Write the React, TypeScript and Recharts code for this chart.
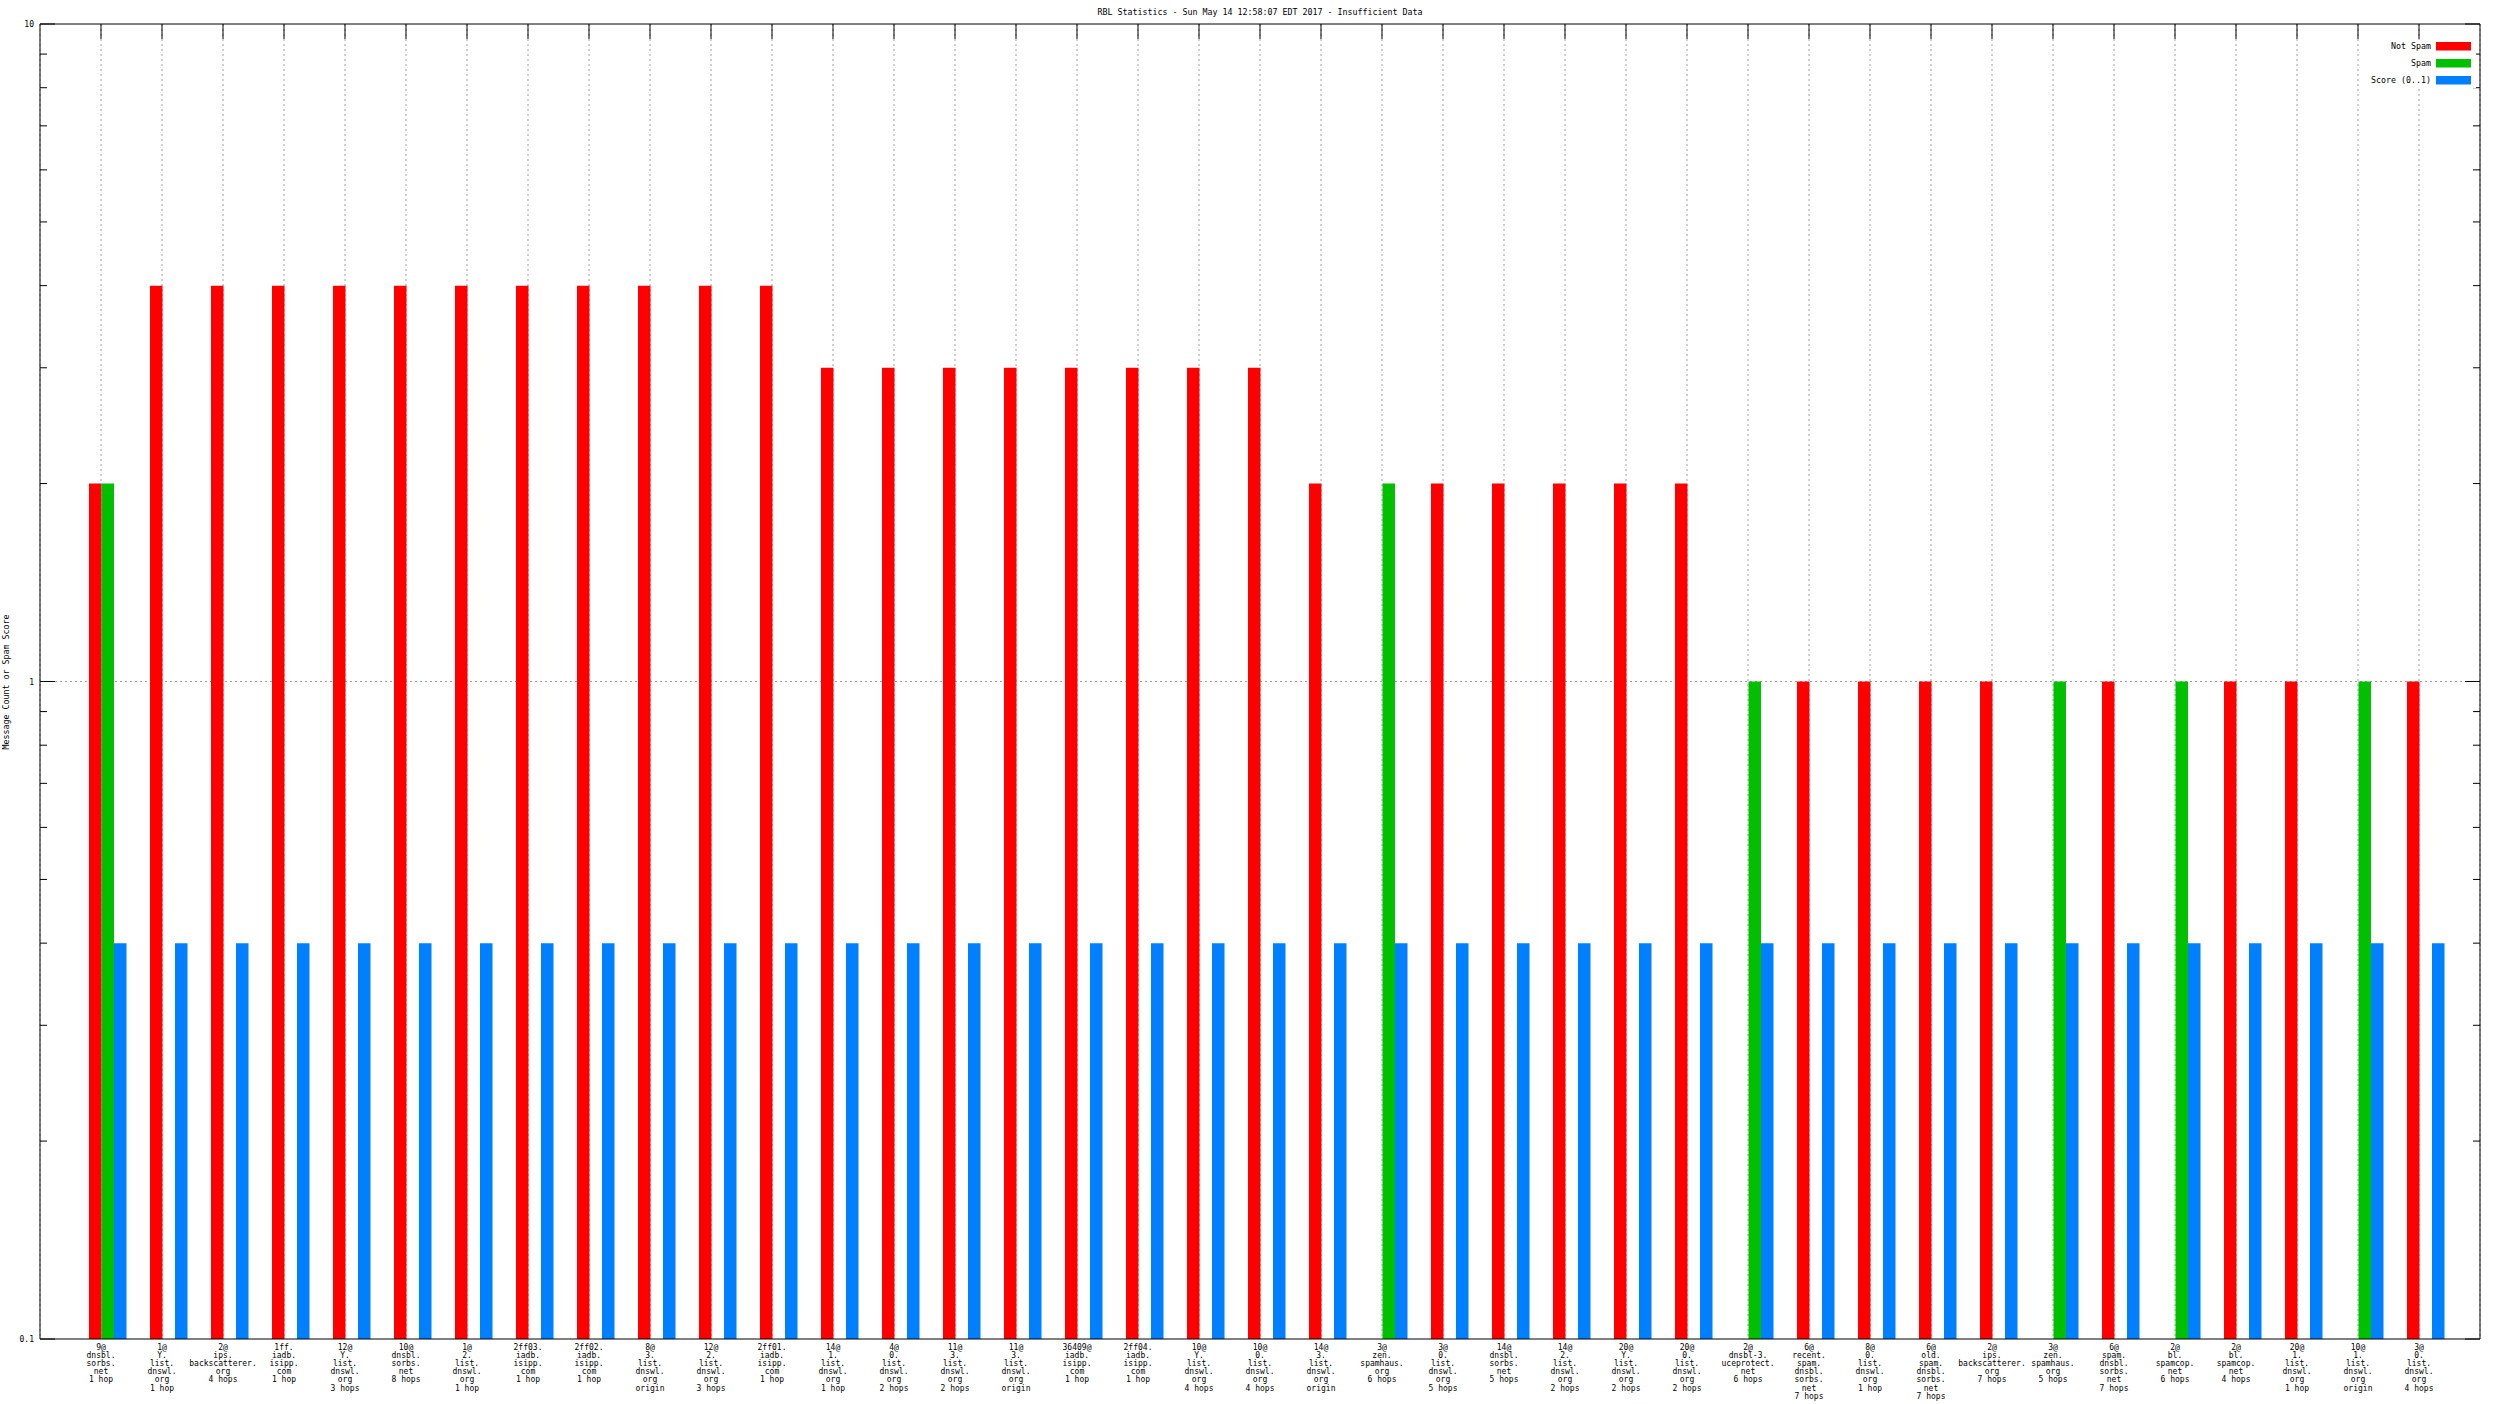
import React from 'react';
import { ComposedChart, Bar, XAxis, YAxis, CartesianGrid } from 'recharts';

// ---------- data ----------
const categories: string[] = [
  '9@|dnsbl.|sorbs.|net|1 hop',
  '1@|Y.|list.|dnswl.|org|1 hop',
  '2@|ips.|backscatterer.|org|4 hops',
  '1ff.|iadb.|isipp.|com|1 hop',
  '12@|Y.|list.|dnswl.|org|3 hops',
  '10@|dnsbl.|sorbs.|net|8 hops',
  '1@|2.|list.|dnswl.|org|1 hop',
  '2ff03.|iadb.|isipp.|com|1 hop',
  '2ff02.|iadb.|isipp.|com|1 hop',
  '8@|3.|list.|dnswl.|org|origin',
  '12@|2.|list.|dnswl.|org|3 hops',
  '2ff01.|iadb.|isipp.|com|1 hop',
  '14@|1.|list.|dnswl.|org|1 hop',
  '4@|0.|list.|dnswl.|org|2 hops',
  '11@|3.|list.|dnswl.|org|2 hops',
  '11@|3.|list.|dnswl.|org|origin',
  '36409@|iadb.|isipp.|com|1 hop',
  '2ff04.|iadb.|isipp.|com|1 hop',
  '10@|Y.|list.|dnswl.|org|4 hops',
  '10@|0.|list.|dnswl.|org|4 hops',
  '14@|3.|list.|dnswl.|org|origin',
  '3@|zen.|spamhaus.|org|6 hops',
  '3@|0.|list.|dnswl.|org|5 hops',
  '14@|dnsbl.|sorbs.|net|5 hops',
  '14@|2.|list.|dnswl.|org|2 hops',
  '20@|Y.|list.|dnswl.|org|2 hops',
  '20@|0.|list.|dnswl.|org|2 hops',
  '2@|dnsbl-3.|uceprotect.|net|6 hops',
  '6@|recent.|spam.|dnsbl.|sorbs.|net|7 hops',
  '8@|0.|list.|dnswl.|org|1 hop',
  '6@|old.|spam.|dnsbl.|sorbs.|net|7 hops',
  '2@|ips.|backscatterer.|org|7 hops',
  '3@|zen.|spamhaus.|org|5 hops',
  '6@|spam.|dnsbl.|sorbs.|net|7 hops',
  '2@|bl.|spamcop.|net|6 hops',
  '2@|bl.|spamcop.|net|4 hops',
  '20@|1.|list.|dnswl.|org|1 hop',
  '10@|1.|list.|dnswl.|org|origin',
  '3@|0.|list.|dnswl.|org|4 hops',
];

const notSpam: (number | null)[] = [
  2, 4, 4, 4, 4, 4, 4, 4, 4, 4, 4, 4,
  3, 3, 3, 3, 3, 3, 3, 3,
  2, null, 2, 2, 2, 2, 2,
  null, 1, 1, 1, 1, null, 1, null, 1, 1, null, 1,
];

const spam: (number | null)[] = [
  2, null, null, null, null, null, null, null, null, null, null, null,
  null, null, null, null, null, null, null, null,
  null, 2, null, null, null, null, null,
  1, null, null, null, null, 1, null, 1, null, null, 1, null,
];

const score: (number | null)[] = [
  0.4, 0.4, 0.4, 0.4, 0.4, 0.4, 0.4, 0.4, 0.4, 0.4, 0.4, 0.4, 0.4,
  0.4, 0.4, 0.4, 0.4, 0.4, 0.4, 0.4, 0.4, 0.4, 0.4, 0.4, 0.4, 0.4,
  0.4, 0.4, 0.4, 0.4, 0.4, 0.4, 0.4, 0.4, 0.4, 0.4, 0.4, 0.4, 0.4,
];

const yTicks: number[] = [
  0.1, 0.2, 0.3, 0.4, 0.5, 0.6, 0.7, 0.8, 0.9,
  1, 2, 3, 4, 5, 6, 7, 8, 9, 10,
];
const yMajorTicks: number[] = [0.1, 1, 10];
const yMajorLabels: string[] = ['0.1', '1', '10'];

const seriesInfo = [
  { key: 'notSpam', name: 'Not Spam', color: '#ff0000' },
  { key: 'spam', name: 'Spam', color: '#00c000' },
  { key: 'score', name: 'Score (0..1)', color: '#0080ff' },
];

const title = 'RBL Statistics - Sun May 14 12:58:07 EDT 2017 - Insufficient Data';
const yLabel = 'Message Count or Spam Score';

const data = categories.map((c, i) => ({
  cat: c,
  pad: null as number | null,
  notSpam: notSpam[i],
  spam: spam[i],
  score: score[i],
}));

// ---------- layout ----------
const W = 2496;
const H = 1404;
const FONT = "'DejaVu Sans Mono', monospace";

const LeftTick = (props: any) => {
  const { x, y, payload } = props;
  const idx = yMajorTicks.indexOf(payload.value);
  const major = idx >= 0;
  const len = major ? 15 : 7;
  return (
    <g>
      <line x1={x} x2={x + len} y1={y} y2={y} stroke="#000" strokeWidth={1} />
      {major && (
        <text x={x - 6} y={y + 3} textAnchor="end" fontSize={8} fontFamily={FONT} fill="#000">
          {yMajorLabels[idx]}
        </text>
      )}
    </g>
  );
};

const RightTick = (props: any) => {
  const { x, y, payload } = props;
  const major = yMajorTicks.indexOf(payload.value) >= 0;
  const len = major ? 15 : 7;
  return <line x1={x} x2={x - len} y1={y} y2={y} stroke="#000" strokeWidth={1} />;
};

const TopTick = (props: any) => {
  const { x, y } = props;
  return <line x1={x} x2={x} y1={y} y2={y + 15} stroke="#000" strokeWidth={1} />;
};

const BottomTick = (props: any) => {
  const { x, y, payload } = props;
  const lines = String(payload.value).split('|');
  return (
    <g>
      {lines.map((ln, i) => (
        <text
          key={i}
          x={x}
          y={y + 11 + i * 8.1}
          textAnchor="middle"
          fontSize={8}
          fontFamily={FONT}
          fill="#000"
        >
          {ln}
        </text>
      ))}
    </g>
  );
};

export default function App() {
  return (
    <div style={{ position: 'absolute', left: 0, top: 0, width: W, height: H, background: '#fff' }}>
      <ComposedChart
        width={W}
        height={H}
        data={data}
        margin={{ top: 0, right: 0, bottom: 0, left: 0 }}
        barSize={12.5}
        barGap={0}
      >
        <CartesianGrid
          vertical={true}
          horizontal={true}
          horizontalValues={[1]}
          stroke="#a0a0a0"
          strokeDasharray="2 3"
        />
        <XAxis
          dataKey="cat"
          type="category"
          orientation="bottom"
          height={65}
          interval={0}
          padding={{ left: 30.5, right: 30.5 }}
          tickSize={0}
          tickMargin={0}
          tickLine={false}
          axisLine={{ stroke: '#000', strokeWidth: 1 }}
          tick={<BottomTick />}
        />
        <XAxis
          xAxisId="top"
          dataKey="cat"
          type="category"
          orientation="top"
          height={24}
          interval={0}
          padding={{ left: 30.5, right: 30.5 }}
          tickSize={0}
          tickMargin={0}
          tickLine={false}
          axisLine={{ stroke: '#000', strokeWidth: 1 }}
          tick={<TopTick />}
        />
        <YAxis
          type="number"
          scale="log"
          domain={[0.1, 10]}
          allowDataOverflow={true}
          ticks={yTicks}
          interval={0}
          width={40}
          tickSize={0}
          tickMargin={0}
          tickLine={false}
          axisLine={{ stroke: '#000', strokeWidth: 1 }}
          tick={<LeftTick />}
        />
        <YAxis
          yAxisId="right"
          orientation="right"
          type="number"
          scale="log"
          domain={[0.1, 10]}
          allowDataOverflow={true}
          ticks={yTicks}
          interval={0}
          width={16}
          tickSize={0}
          tickMargin={0}
          tickLine={false}
          axisLine={{ stroke: '#000', strokeWidth: 1 }}
          tick={<RightTick />}
        />
        <Bar dataKey="pad" fill="none" legendType="none" isAnimationActive={false} />
        {seriesInfo.map((s) => (
          <Bar
            key={s.key}
            dataKey={s.key}
            name={s.name}
            fill={s.color}
            isAnimationActive={false}
          />
        ))}
      </ComposedChart>
      <svg
        width={W}
        height={H}
        style={{ position: 'absolute', left: 0, top: 0, pointerEvents: 'none' }}
      >
        <text
          x={1260}
          y={15}
          textAnchor="middle"
          fontSize={8}
          fontFamily={FONT}
          textLength={325}
          lengthAdjust="spacingAndGlyphs"
          fill="#000"
        >
          {title}
        </text>
        <text
          x={9}
          y={682}
          transform="rotate(-90 9 682)"
          textAnchor="middle"
          fontSize={8.3}
          fontFamily={FONT}
          fill="#000"
        >
          {yLabel}
        </text>
        <rect x={2368} y={40} width={108} height={48} fill="#fff" />
        {seriesInfo.map((s, i) => (
          <g key={s.key}>
            <text
              x={2431}
              y={49 + i * 17}
              textAnchor="end"
              fontSize={8.3}
              fontFamily={FONT}
              fill="#000"
            >
              {s.name}
            </text>
            <rect x={2436} y={42 + i * 17} width={35} height={8.5} fill={s.color} />
          </g>
        ))}
      </svg>
    </div>
  );
}
